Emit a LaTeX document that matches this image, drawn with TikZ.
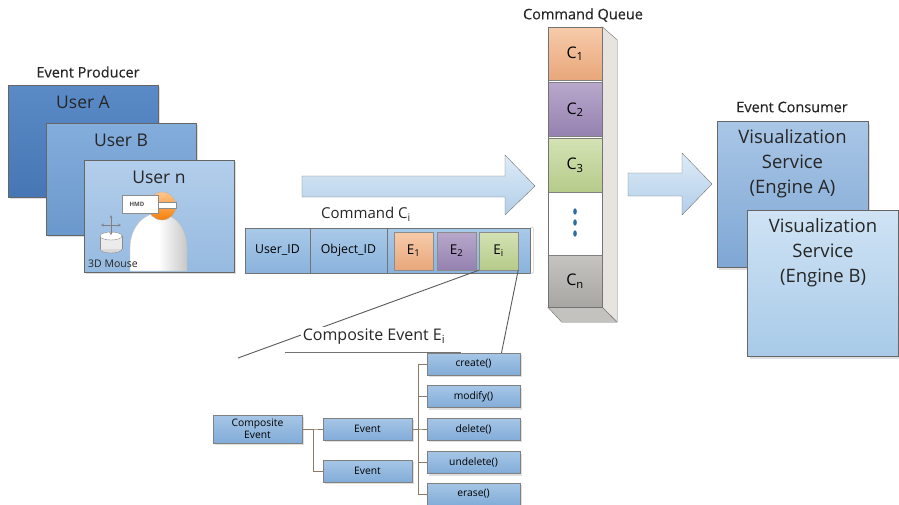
\documentclass[tikz,border=0pt]{standalone}
\usepackage{fontspec}
\setmainfont{Open Sans}
\newfontfamily\headfont[FakeBold=0.4]{Open Sans}
\usetikzlibrary{positioning,shadows}

\definecolor{userAhi}{HTML}{5B8BC7}
\definecolor{userAlo}{HTML}{4676B3}
\definecolor{userBhi}{HTML}{83ADDB}
\definecolor{userBlo}{HTML}{6B98CC}
\definecolor{userNhi}{HTML}{B3CEEB}
\definecolor{userNlo}{HTML}{96BAE0}
\definecolor{engAhi}{HTML}{A9C6E6}
\definecolor{engAlo}{HTML}{7FA7D4}
\definecolor{engBhi}{HTML}{CFE3F4}
\definecolor{engBlo}{HTML}{A8CAE8}
\definecolor{cellhi}{HTML}{A9C9E8}
\definecolor{celllo}{HTML}{8AB3DC}
\definecolor{orhi}{HTML}{F6CBAA}
\definecolor{orlo}{HTML}{E9A77B}
\definecolor{puhi}{HTML}{B8A8CB}
\definecolor{pulo}{HTML}{9581B0}
\definecolor{grhi}{HTML}{D4E2B4}
\definecolor{grlo}{HTML}{B5CB8A}
\definecolor{gyhi}{HTML}{C6C4C0}
\definecolor{gylo}{HTML}{A8A6A2}
\definecolor{flowhi}{HTML}{DDEBF7}
\definecolor{flowlo}{HTML}{B2CEE9}
\definecolor{treehi}{HTML}{A6C6E6}
\definecolor{treelo}{HTML}{82ACD8}
\definecolor{branchcol}{HTML}{8B7B6B}
\definecolor{qside}{HTML}{E7E4E0}
\definecolor{dotblue}{HTML}{2E6DA4}

\begin{document}
\begin{tikzpicture}[x=1pt,y=-1pt,on grid,
  soft/.style={drop shadow={opacity=.25,shadow xshift=2pt,shadow yshift=-2pt}},
  panel/.style={draw=black!60,inner sep=0pt,minimum width=150pt,minimum height=112pt,soft},
  engine/.style={draw=black!60,inner sep=0pt,minimum width=151pt,minimum height=146pt,soft},
  caption/.style={font=\headfont\fontsize{14.5}{17}\selectfont,text=black!85},
  big/.style={font=\fontsize{17.5}{20}\selectfont,text=black!85},
  cell/.style={draw=black!55,inner sep=0pt,minimum height=45pt,top color=cellhi,bottom color=celllo,
    font=\fontsize{12.3}{14}\selectfont},
  evt/.style={draw=black!45,inner sep=0pt,minimum width=39pt,minimum height=38pt,
    font=\fontsize{13.5}{15}\selectfont},
  qcell/.style={draw=black!50,inner sep=0pt,minimum width=54pt,font=\fontsize{16}{18}\selectfont},
  treebox/.style={draw=black!50,inner sep=0pt,top color=treehi,bottom color=treelo,
    minimum height=22pt,align=center,font=\fontsize{10.3}{12}\selectfont,soft},
  meth/.style={treebox,minimum width=93pt},
  branch/.style={to path={(\tikztostart.east) -- ++(#1,0) |- (\tikztotarget)}},
  flow/.style={draw=black!55,top color=flowhi,bottom color=flowlo,line join=round},
  zoomline/.style={draw=black!65,line width=.9pt}]

  \useasboundingbox (0,0) rectangle (899,504);

  % producers
  \path
  node[panel,top color=userAhi,bottom color=userAlo] (userA) at (83,141) {}
  node[panel,top color=userBhi,bottom color=userBlo,below right=38pt and 38pt of userA] (userB) {}
  node[panel,top color=userNhi,bottom color=userNlo,below right=37pt and 38pt of userB] (userN) {}
  node[caption] (producer) at (88,72) {Event Producer}
  node[big] (userAtxt) at ([yshift=-18pt]userA.north) {User A}
  node[big] (userBtxt) at ([yshift=-18pt]userB.north) {User B}
  node[big] (userNtxt) at ([yshift=-18pt]userN.north) {User n}
  ;

  % user with HMD
  \draw[black!25,left color=white,right color=black!22,middle color=white]
    (130,271) -- (130,248) .. controls (130,226) and (145,213) .. (158,213)
    .. controls (173,213) and (187,226) .. (187,248) -- (187,271) -- cycle;
  \draw[black!30,top color=orange!45,bottom color=orange!85!brown] (162,206) circle (14);
  \draw[black!45,fill=white] (158,202) rectangle (176,208);
  \draw[black!45,fill=white] (122,195) rectangle (158,213);
  \node[font=\fontsize{6}{7}\selectfont\bfseries,text=black!70] (hmd) at (137,204) {HMD};

  % 3D mouse
  \draw[black!45,fill=black!15] (111,249) ellipse [x radius=11,y radius=4];
  \fill[black!8] (100,236) rectangle (122,249);
  \draw[black!45] (100,236) -- (100,249) (122,236) -- (122,249);
  \draw[black!45,fill=white] (111,236) ellipse [x radius=11,y radius=4];
  \draw[black!50,stealth-stealth] (101,225) -- (121,225);
  \draw[black!50,stealth-stealth] (111,215) -- (111,235);
  \node[font=\fontsize{10.5}{12}\selectfont,text=black!85] (mouse) at (113,264) {3D Mouse};

  % flow arrows
  \draw[flow] (302,176) -- (505,176) -- (505,155) -- (535,186) -- (505,215) -- (505,197) -- (302,197) -- cycle;
  \draw[flow] (628,173) -- (682,173) -- (682,153) -- (712,184) -- (682,215) -- (682,196) -- (628,196) -- cycle;

  % command record
  \path
  node[caption,font=\fontsize{15}{17}\selectfont] (cmdtitle) at (366,214) {Command C\textsubscript{i}}
  node[cell,minimum width=285pt] (cmd) at (387.5,250.5) {}
  node[cell,minimum width=65pt] (userid) at (277.5,250.5) {User\_ID}
  node[cell,minimum width=77pt] (objid) at (348.5,250.5) {Object\_ID}
  node[evt,top color=orhi,bottom color=orlo] (E1) at (413.5,251) {E\textsubscript{1}}
  node[evt,top color=puhi,bottom color=pulo,right=43pt of E1] (E2) {E\textsubscript{2}}
  node[evt,top color=grhi,bottom color=grlo,right=42pt of E2] (Ei) {E\textsubscript{i}}
  ;
  \draw[black!35] (cmd.north east) -- ++(3,0) -- ++(0,45) -- (cmd.south east);

  % command queue
  \path
  node[caption] (queuetitle) at (583,15) {Command Queue}
  node[qcell,minimum height=53pt,top color=orhi,bottom color=orlo] (C1) at (575,53.5) {C\textsubscript{1}}
  node[qcell,minimum height=54pt,top color=puhi,bottom color=pulo] (C2) at (575,109.5) {C\textsubscript{2}}
  node[qcell,minimum height=54pt,top color=grhi,bottom color=grlo] (C3) at (575,165.5) {C\textsubscript{3}}
  node[qcell,minimum height=60pt,draw=none,fill=white] (Cdots) at (575,222.5) {}
  node[qcell,minimum height=52pt,top color=gyhi,bottom color=gylo] (Cn) at (575,281) {C\textsubscript{n}}
  ;
  \draw[black!55,fill=qside] (C1.north east) -- ++(15,13) -- ++(0,282) -- (Cn.south east) -- cycle;
  \draw[black!55,fill=qside!85!black] (Cn.south west) -- ++(14,15) -- ++(55,0) -- (Cn.south east) -- cycle;
  \draw[black!55] (C1.north west) rectangle (Cn.south east);
  \foreach \y in {-11,0,11}
    \fill[dotblue] ([yshift=\y pt]Cdots.center) ellipse [x radius=1.8,y radius=3.2];

  % consumers
  \path
  node[caption] (consumer) at (792,107) {Event Consumer}
  node[engine,top color=engAhi,bottom color=engAlo] (engA) at (792.5,194.5) {}
  node[engine,top color=engBhi,bottom color=engBlo,below right=89pt and 30.5pt of engA] (engB) {}
  node[big,font=\fontsize{18.5}{25}\selectfont,align=center,anchor=north] (engAtxt) at ([yshift=-5pt]engA.north) {Visualization\\Service\\(Engine A)}
  node[big,font=\fontsize{18.5}{25}\selectfont,align=center,anchor=north] (engBtxt) at ([yshift=-5pt]engB.north) {Visualization\\Service\\(Engine B)}
  ;

  % composite event tree
  \path
  node[treebox,minimum width=89pt,minimum height=28pt] (comp) at (257.5,429) {Composite\\Event}
  node[treebox,minimum width=89pt] (ev1) at (367.5,429) {Event}
  node[treebox,minimum width=89pt] (ev2) at (367.5,471) {Event}
  node[meth] (create) at (473.5,364) {create()}
  node[meth,below=32.5pt of create] (modify) {modify()}
  node[meth,below=32.5pt of modify] (delete) {delete()}
  node[meth,below=33.5pt of delete] (undelete) {undelete()}
  node[meth,below=31.5pt of undelete] (erase) {erase()}
  ;
  \path[draw=branchcol,line width=.9pt]
  (comp) edge[branch=11] (ev1)
  (comp) edge[branch=11] (ev2)
  (ev1) edge[branch=6] (create)
  (ev1) edge[branch=6] (modify)
  (ev1) edge[branch=6] (delete)
  (ev1) edge[branch=6] (undelete)
  (ev1) edge[branch=6] (erase)
  ;

  % zoom into E_i
  \coordinate (zl) at (238,358);
  \draw[zoomline] (Ei.south west) -- (zl);
  \draw[zoomline] (Ei.south east) -- ([xshift=28pt]create.north);
  \node[fill=white,inner sep=2pt,font=\fontsize{16}{18}\selectfont,text=black!85] (comptitle) at (374,337) {Composite Event E\textsubscript{i}};
  \draw[black!55,line width=.9pt] ([xshift=-16pt,yshift=-5pt]comptitle.south west) -- ([xshift=14pt,yshift=-5pt]comptitle.south east);
\end{tikzpicture}
\end{document}
